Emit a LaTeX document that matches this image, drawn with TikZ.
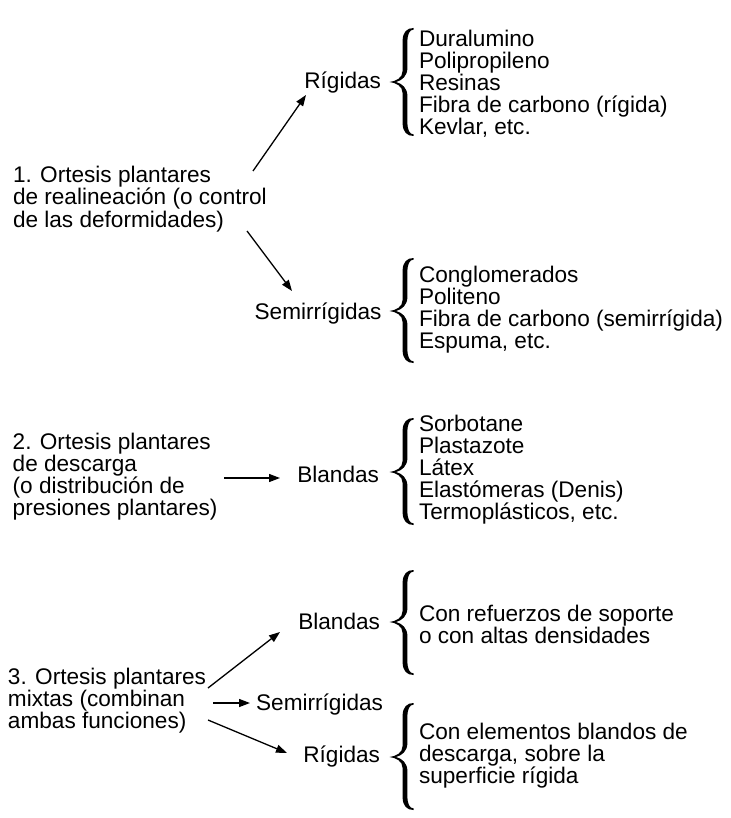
\documentclass[tikz,border=0pt]{standalone}
\usepackage{fontspec}
\setmainfont{Liberation Sans}
\usetikzlibrary{arrows.meta}
\newcommand\mybrace[3]{%
  \fill (413.5,#1) .. controls (407,#1) and (402.6,#1+4) .. (402.6,#1+13)
   -- (402.6,#3-11) .. controls (402.6,#3-4) and (396,#3-0.8) .. (389.5,#3)
   .. controls (396,#3+0.8) and (402.6,#3+4) .. (402.6,#3+11)
   -- (402.6,#2-13) .. controls (402.6,#2-4) and (407,#2) .. (413.5,#2)
   -- (413.5,#2-1.6) .. controls (409.5,#2-1.8) and (407.4,#2-6) .. (407.4,#2-14)
   -- (407.4,#3+14) .. controls (407.4,#3+6) and (402,#3+1.5) .. (396,#3)
   .. controls (402,#3-1.5) and (407.4,#3-6) .. (407.4,#3-14)
   -- (407.4,#1+14) .. controls (407.4,#1+6) and (409.5,#1+1.8) .. (413.5,#1+1.6) -- cycle;}
\tikzset{
  txt/.style={inner sep=0pt, outer sep=0pt, align=left, anchor=base west,
    font=\fontsize{22.6}{22}\selectfont},
  mid/.style={inner sep=0pt, outer sep=0pt, anchor=base east,
    font=\fontsize{22.6}{22}\selectfont},
  arr/.style={line width=1.3pt, -{Triangle[length=11pt,width=8pt]}}
}
\begin{document}
\begin{tikzpicture}[x=1pt,y=-1pt]
\useasboundingbox[fill=white] (0,0) rectangle (730,818);
% group 1 (anchors at baseline of last line)
\node[txt] (g1) at (13,227) {1. Ortesis plantares\\de realineación (o control\\de las deformidades)};
\node[mid] (r1) at (381,88.3) {Rígidas};
\node[mid] (s1) at (381.5,319.5) {Semirrígidas};
\node[txt] (l1) at (419,134.5) {Duralumino\\Polipropileno\\Resinas\\Fibra de carbono (rígida)\\Kevlar, etc.};
\node[txt] (l2) at (419,348.5) {Conglomerados\\Politeno\\Fibra de carbono (semirrígida)\\Espuma, etc.};
% group 2
\node[txt] (g2) at (12.7,515) {2. Ortesis plantares\\de descarga\\(o distribución de\\presiones plantares)};
\node[mid] (b2) at (379,482.7) {Blandas};
\node[txt] (l3) at (419,519) {Sorbotane\\Plastazote\\Látex\\Elastómeras (Denis)\\Termoplásticos, etc.};
% group 3
\node[txt] (g3) at (8,728.5) {3. Ortesis plantares\\mixtas (combinan\\ambas funciones)};
\node[mid] (b3) at (380,629.3) {Blandas};
\node[mid] (s3) at (383,710) {Semirrígidas};
\node[mid] (r3) at (380,762.3) {Rígidas};
\node[txt] (l4) at (419,643.5) {Con refuerzos de soporte\\o con altas densidades};
\node[txt] (l5) at (419,783.5) {Con elementos blandos de\\descarga, sobre la\\superficie rígida};
% braces
\mybrace{28}{136}{82}
\mybrace{258}{363}{311}
\mybrace{418}{525}{472}
\mybrace{570}{675}{622}
\mybrace{703}{810}{757}
% arrow ends
\coordinate (a1s) at (253,171); \coordinate (a1e) at (306,95);
\coordinate (a2s) at (247,231); \coordinate (a2e) at (292,291);
\coordinate (a3s) at (224,478); \coordinate (a3e) at (280,478);
\coordinate (a4s) at (208,688); \coordinate (a4e) at (280,632);
\coordinate (a5s) at (213,703); \coordinate (a5e) at (250,703);
\coordinate (a6s) at (208,720); \coordinate (a6e) at (287,753);
\draw[arr] (a1s) -- (a1e);
\draw[arr] (a2s) -- (a2e);
\draw[arr] (a3s) -- (a3e);
\draw[arr] (a4s) -- (a4e);
\draw[arr] (a5s) -- (a5e);
\draw[arr] (a6s) -- (a6e);
\end{tikzpicture}
\end{document}
